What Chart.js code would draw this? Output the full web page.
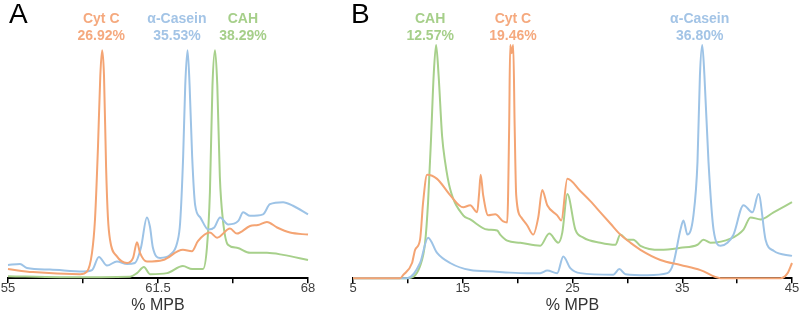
<!DOCTYPE html>
<html>
<head>
<meta charset="utf-8">
<script src="https://cdn.jsdelivr.net/npm/chart.js@4/dist/chart.umd.min.js"></script>
<style>
  body { margin: 0; background: #fff; width: 800px; height: 318px; overflow: hidden; position: relative; font-family: "Liberation Sans", Arial, sans-serif; }
  .panel { position: absolute; top: 0; height: 318px; }
  #panelA { left: 0; width: 316px; }
  #panelB { left: 345px; width: 455px; }
  .tag { position: absolute; top: -2px; font-size: 28px; color: #000; }
</style>
</head>
<body>
<div class="panel" id="panelA"><canvas id="chartA"></canvas></div>
<div class="panel" id="panelB"><canvas id="chartB"></canvas></div>
<div class="tag" style="left:9px">A</div>
<div class="tag" style="left:351px">B</div>
<script>
// Panel A (55–68 % MPB)
const aCytX = [55.0, 56.08, 58.12, 58.42, 58.64, 58.77, 58.9, 59.0, 59.08, 59.16, 59.25, 59.33, 59.42, 59.72, 60.16, 60.42, 60.59, 60.72, 61.02, 61.72, 62.58, 62.97, 63.23, 63.75, 64.06, 64.62, 64.92, 65.49, 65.83, 66.22, 66.66, 67.22, 68.0];
const aCytY = [9, 6, 4, 6.5, 25, 58, 130, 200, 225, 200, 110, 60, 38, 21.5, 15, 20, 35.5, 25, 16.5, 18, 28, 26.5, 36.5, 45, 40, 49, 44, 51.5, 52.5, 55.5, 50, 45, 43];

const aCasX = [55.0, 55.52, 55.82, 56.82, 58.25, 58.64, 58.94, 59.29, 59.72, 60.16, 60.5, 60.76, 61.02, 61.15, 61.28, 61.59, 62.02, 62.33, 62.46, 62.59, 62.68, 62.78, 62.87, 62.98, 63.11, 63.33, 63.68, 63.94, 64.19, 64.54, 64.98, 65.19, 65.49, 66.05, 66.35, 66.92, 67.35, 68.0];
const aCasY = [13, 14, 10, 8.5, 6.5, 8, 21, 12.5, 16.5, 14, 15, 30, 60, 51, 30, 20, 23, 35, 55, 120, 190, 225, 190, 120, 72, 60, 48, 50, 60, 53, 56.5, 65, 61.5, 63, 73, 75, 71.5, 63];

const aCahX = [55.0, 57.25, 60.29, 60.59, 60.89, 61.15, 61.89, 62.58, 62.98, 63.45, 63.62, 63.75, 63.86, 63.97, 64.07, 64.18, 64.31, 64.53, 64.92, 65.49, 66.22, 66.92, 68.0];
const aCahY = [2, 1, 1.5, 5, 11, 4, 5, 12, 9, 9, 30, 85, 190, 225, 190, 100, 58, 33, 30, 25, 25, 23, 18];

// Panel B (5–45 % MPB)
const bCytX = [5, 9.29, 9.56, 10.38, 10.66, 11.11, 11.39, 11.75, 12.66, 13.85, 15.04, 15.68, 16.31, 16.5, 16.63, 16.86, 17.32, 17.96, 18.69, 19.05, 19.23, 19.32, 19.46, 19.6, 19.73, 19.87, 20.33, 20.88, 21.42, 21.88, 22.24, 22.7, 23.61, 23.98, 24.53, 25.71, 26.63, 27.54, 28.45, 29.36, 30.28, 31.19, 33.01, 34.84, 36.66, 38.49, 43.96, 44.6, 45.0];
const bCytY = [0, 0, 3, 15, 28, 38, 75, 102, 98, 82, 70, 72, 65, 85, 102, 82, 62, 63, 56, 55, 150, 230, 222, 230, 150, 82, 60, 52, 43, 60, 87, 72, 62, 57, 98, 86, 76, 65, 54, 43, 35, 28, 18, 13, 8, 0, 0, 5, 15];

const bCasX = [5, 9.93, 11.11, 11.84, 12.66, 13.85, 15.68, 17.77, 19.32, 20.88, 22.06, 22.7, 23.61, 24.16, 24.8, 25.71, 28.72, 29.27, 29.82, 31.83, 33.65, 34.2, 34.84, 35.11, 35.47, 36.02, 36.39, 36.61, 36.82, 37.02, 37.39, 37.85, 38.49, 39.12, 39.67, 40.58, 41.4, 41.95, 42.59, 43.32, 45.0];
const bCasY = [0, 0, 15, 40, 25, 15, 8, 6.5, 5.5, 5, 5, 7.5, 5, 21.5, 10, 5, 3.5, 9, 4, 3, 5, 15, 48, 57, 43, 62, 115, 200, 230, 200, 115, 48, 32, 35, 43, 72, 65, 83, 38, 27, 22];

const bCahX = [5, 9.93, 11.11, 11.57, 11.84, 12.12, 12.35, 12.57, 12.8, 13.12, 13.39, 13.85, 15.04, 15.68, 17.23, 18.14, 18.41, 19.05, 20.24, 22.06, 22.88, 23.7, 24.07, 24.53, 25.26, 25.99, 27.54, 28.91, 29.36, 30.0, 30.55, 31.19, 33.01, 34.84, 36.39, 36.93, 37.57, 39.4, 40.58, 41.22, 42.13, 43.32, 45.0];
const bCahY = [0, 0, 12, 35, 75, 140, 200, 230, 200, 140, 115, 88, 62, 58, 48, 47, 43, 37, 35, 32, 44, 35, 45, 83, 48, 40, 35, 33, 43, 38, 38, 32, 28, 30, 33, 38, 35, 39, 48, 60, 58, 65, 75];

// peak labels
const namesA = ["Cyt C", "α-Casein", "CAH"];
const pctA = ["26.92%", "35.53%", "38.29%"];
const namesB = ["CAH", "Cyt C", "α-Casein"];
const pctB = ["12.57%", "19.46%", "36.80%"];

const ORANGE = "#F4A473";
const BLUE = "#9DC3E6";
const GREEN = "#A7D08B";
const TXT_ORANGE = "#F5A97E";
const TXT_BLUE = "#A3C4E6";
const TXT_GREEN = "#A6CF8A";

function pts(xs, ys) {
    return xs.map((x, i) => ({ x: x, y: ys[i] }));
}

function ds(label, xs, ys, color) {
    return {
        label: label,
        data: pts(xs, ys),
        borderColor: color,
        borderWidth: 2,
        pointRadius: 0,
        fill: false,
        cubicInterpolationMode: "monotone",
        clip: false
    };
}

// draws the peak names and percentages above the plot
const peakLabels = {
    id: "peakLabels",
    afterDraw(chart, args, opts) {
        const ctx = chart.ctx;
        const xs = chart.scales.x;
        ctx.save();
        ctx.textAlign = "center";
        ctx.textBaseline = "middle";
        ctx.font = "bold 14px 'Liberation Sans', Arial, sans-serif";
        opts.names.forEach((n, i) => {
            const px = xs.getPixelForValue(opts.at[i]);
            ctx.fillStyle = opts.colors[i];
            ctx.fillText(n, px, 19);
            ctx.fillText(opts.pct[i], px, 36);
        });
        ctx.restore();
    }
};

function makeChart(id, datasets, min, max, step, labelEvery, labelOpts) {
    return new Chart(document.getElementById(id), {
        type: "line",
        data: { datasets: datasets },
        plugins: [peakLabels],
        options: {
            responsive: true,
            maintainAspectRatio: false,
            animation: false,
            layout: { padding: { left: 8, right: 8, top: 40, bottom: 3 } },
            plugins: {
                legend: { display: false },
                tooltip: { enabled: false },
                peakLabels: labelOpts
            },
            scales: {
                x: {
                    type: "linear",
                    min: min,
                    max: max,
                    border: { display: true, color: "#000", width: 2 },
                    grid: { drawOnChartArea: false, drawTicks: true, tickLength: 5, color: "#000", lineWidth: 1.5 },
                    ticks: {
                        stepSize: step,
                        autoSkip: false,
                        maxRotation: 0,
                        padding: -3,
                        color: "#404040",
                        font: { family: "'Liberation Sans', Arial, sans-serif", size: 13 },
                        callback: (v, i) => (i % labelEvery === 0 ? String(v) : "")
                    },
                    title: {
                        display: true,
                        text: "% MPB",
                        color: "#333",
                        padding: { top: 3, bottom: 0 },
                        font: { family: "'Liberation Sans', Arial, sans-serif", size: 16 }
                    }
                },
                y: { display: false, min: 0, max: 235 }
            }
        }
    });
}

makeChart("chartA", [
    ds("Cyt C", aCytX, aCytY, ORANGE),
    ds("α-Casein", aCasX, aCasY, BLUE),
    ds("CAH", aCahX, aCahY, GREEN)
], 55, 68, 3.25, 2, {
    names: namesA, pct: pctA, at: [59.04, 62.32, 65.18],
    colors: [TXT_ORANGE, TXT_BLUE, TXT_GREEN]
});

makeChart("chartB", [
    ds("Cyt C", bCytX, bCytY, ORANGE),
    ds("α-Casein", bCasX, bCasY, BLUE),
    ds("CAH", bCahX, bCahY, GREEN)
], 5, 45, 5, 2, {
    names: namesB, pct: pctB, at: [12.03, 19.57, 36.59],
    colors: [TXT_GREEN, TXT_ORANGE, TXT_BLUE]
});
</script>
</body>
</html>
